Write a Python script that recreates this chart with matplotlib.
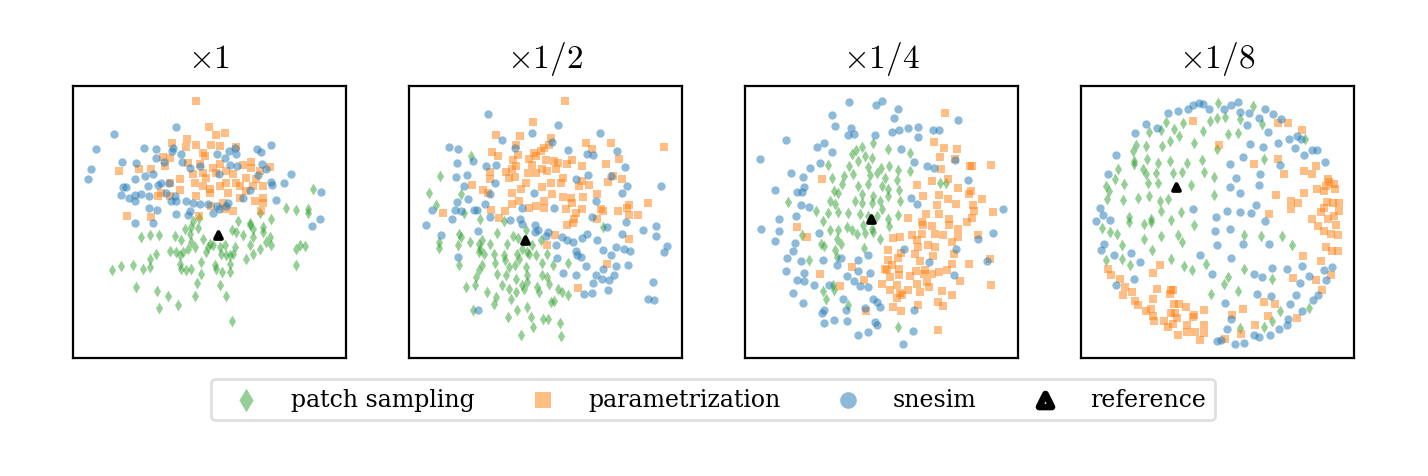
import numpy as np
import matplotlib
matplotlib.use("Agg")
import matplotlib.pyplot as plt

plt.rcParams['font.family'] = 'DejaVu Serif'
plt.rcParams['mathtext.fontset'] = 'cm'

TITLES = [r'$\times 1$', r'$\times 1/2$', r'$\times 1/4$', r'$\times 1/8$']
LABELS = ['patch sampling', 'parametrization', 'snesim', 'reference']

# ---- panel 1 (x1) ----
P1_PATCH = [(720,310),(640,365),(668,373),(705,368),(705,380),(560,380),(595,400),(495,405),(530,410),(378,395),(360,405),
(205,453),(230,448),(258,448),(305,450),(335,428),(355,423),(375,426),(350,443),(325,463),(355,468),(390,458),(365,483),
(345,488),(330,498),(290,496),(310,498),(320,508),(405,483),(400,498),(410,473),(420,478),(440,483),(455,478),(478,433),
(490,438),(510,448),(530,418),(540,428),(570,423),(570,438),(540,453),(590,453),(595,478),(580,468),(560,488),(530,478),
(520,518),(540,503),(485,483),(480,503),(470,508),(460,508),(445,503),(250,503),(230,518),(180,538),(145,541),(117,553),
(210,548),(230,543),(320,533),(340,553),(355,548),(325,548),(385,528),(385,563),(425,538),(430,548),(448,558),(472,558),
(470,533),(440,598),(372,590),(458,630),(365,630),(315,656),(284,630),(252,615),(258,665),(190,603),(478,705),(668,488),
(680,478),(695,480),(668,538)]
P1_PARAM = [(370,45),(408,122),(430,148),(455,142),(298,172),(343,160),(338,182),(368,178),(415,178),(440,180),(490,182),
(390,200),(395,210),(270,212),(290,215),(345,232),(275,240),(137,255),(198,250),(235,250),(380,235),(420,245),(440,235),
(510,237),(535,228),(535,245),(590,242),(320,280),(290,290),(360,265),(390,260),(400,275),(430,260),(460,255),(480,265),
(520,275),(550,280),(560,255),(460,290),(490,290),(365,290),(390,300),(410,310),(440,300),(500,300),(540,300),(570,300),
(265,320),(255,330),(320,312),(370,330),(410,320),(465,320),(520,315),(570,335),(545,345),(570,350),(450,350),(500,335),
(415,360),(455,370),(480,375),(565,375),(163,390),(233,393),(378,390),(290,330)]
P1_SNESIM = [(123,145),(70,188),(55,248),(45,278),(148,228),(190,230),(212,187),(248,188),(250,215),(273,228),(300,185),
(298,195),(308,122),(325,203),(328,228),(350,247),(380,240),(432,205),(455,215),(468,195),(485,187),(488,205),(470,237),
(493,240),(553,188),(563,197),(593,177),(568,233),(580,250),(653,263),(633,292),(593,287),(597,297),(555,268),(530,312),
(510,335),(465,350),(432,360),(458,360),(437,368),(405,355),(382,355),(350,375),(340,345),(360,350),(305,330),(310,345),
(293,345),(278,322),(288,292),(265,292),(255,297),(225,300),(240,265),(215,270),(185,278),(158,302),(150,302),(145,328),
(168,335),(185,328),(185,345),(205,325),(228,330),(228,365),(252,373),(308,385),(345,387),(420,380),(608,342),(743,318),
(740,398),(438,265),(185,410),(240,410),(717,420)]
P1_REF = [(436,448)]

# ---- panel 2 (x1/2) ----
P2_PATCH = [(185,210),(93,270),(60,320),(155,325),(82,358),(165,380),(213,400),(285,405),
(150,443),(155,453),(148,478),(90,468),(90,486),(183,468),(210,473),(220,463),(210,498),(225,503),(212,488),(242,473),
(265,440),(293,473),(313,450),(328,456),(350,433),(255,503),(258,530),(285,508),(288,523),(300,543),(325,503),(330,518),
(318,538),(340,488),(355,498),(360,503),(382,508),(370,478),(395,463),(415,503),(398,530),(432,536),(478,530),(150,538),
(218,538),(210,553),(265,563),(292,568),(322,578),(355,568),(350,543),(340,598),(345,608),(355,588),(385,603),(390,618),
(398,568),(415,573),(420,593),(447,608),(458,618),(478,626),(300,608),(278,598),(320,618),(305,640),(262,633),(235,618),
(197,598),(170,603),(200,573),(255,653),(193,673),(325,673),(355,663),(298,693),(365,693),(402,698),(418,698),(425,648),
(435,646),(452,710),(372,723),(335,746),(457,750),(583,423)]
P2_PARAM = [(468,45),(372,108),(262,148),(333,150),(425,155),(420,178),(395,195),(375,200),(382,210),(405,185),(322,178),
(328,208),(248,198),(268,210),(312,222),(322,240),(360,220),(370,237),(410,222),(435,225),(448,232),(475,235),(488,222),
(520,240),(532,172),(548,190),(605,170),(630,218),(590,233),(243,258),(243,278),(290,258),(300,275),(318,272),(308,250),
(358,260),(380,262),(398,250),(415,255),(440,250),(462,275),(455,292),(425,290),(398,302),(350,292),(335,310),(310,322),
(238,322),(222,312),(190,298),(102,382),(430,325),(462,333),(485,335),(490,350),(470,370),(405,345),(405,365),(380,360),
(360,365),(330,345),(308,355),(288,375),(245,372),(520,285),(540,298),(510,300),(565,325),(523,333),(597,288),(613,270),
(640,280),(660,357),(655,365),(575,368),(583,375),(628,375),(660,388),(688,387),(716,350),(766,182),(500,380),(520,370),
(270,395),(495,400),(565,400),(473,416),(493,410),(438,448),(415,476),(660,458),(595,533),(508,606)]
P2_SNESIM = [(236,83),(448,118),(370,140),(280,162),(572,142),(120,183),(148,190),(143,230),(192,225),(230,240),(260,237),
(317,185),(428,168),(477,193),(535,205),(553,207),(623,195),(647,243),(538,268),(500,278),(605,270),(655,300),(638,322),
(755,300),(140,272),(173,268),(165,300),(258,290),(178,340),(143,347),(243,323),(228,355),(205,372),(195,372),(155,375),
(137,373),(68,373),(130,398),(242,392),(302,402),(333,398),(375,320),(340,365),(435,367),(560,345),(548,392),(650,408),
(52,418),(97,446),(148,513),(207,436),(208,671),(338,413),(378,418),(378,438),(388,433),(418,438),(410,450),(440,478),
(445,516),(460,453),(475,463),(492,468),(500,496),(505,508),(515,513),(518,456),(535,443),(530,541),(563,463),(582,493),
(593,423),(607,508),(620,483),(638,443),(645,488),(663,496),(703,433),(742,420),(742,450),(773,480),(765,498),(657,536),
(622,541),(583,548),(560,566),(553,590),(580,580),(600,583),(616,566),(598,611),(548,620),(525,625),(500,566),(462,560),
(733,588),(717,638),(736,643)]
P2_REF = [(348,463)]

# ---- panel 3 (x1/4) ----
P3_PATCH = [(350,182),(385,170),(428,190),(495,200),(332,192),(320,205),(360,210),(382,215),(340,225),(312,240),(250,238),
(368,242),(408,245),(433,240),(460,252),(495,255),(297,270),(262,275),(325,265),(375,268),(395,260),(420,275),(455,282),
(290,295),(340,300),(370,295),(410,300),(430,310),(462,312),(268,315),(280,320),(352,325),(385,330),(405,345),(430,330),
(465,345),(255,345),(270,355),(330,345),(350,350),(380,350),(410,370),(130,347),(212,375),(248,382),(278,378),(310,380),
(345,385),(370,390),(395,390),(430,400),(460,388),(585,290),(602,290),(235,405),
(255,433),(278,433),(305,423),(322,433),(335,443),(355,418),(360,440),(380,430),(385,438),(432,420),(405,458),(358,485),
(277,458),(287,473),(228,473),(238,480),(270,493),(275,513),(192,523),(172,446),(265,598),(268,613),(235,616),(243,640),
(308,656),(458,723)]
P3_PARAM = [(600,80),(568,168),(598,185),(635,190),(585,213),(630,220),(675,240),(680,240),(738,238),(588,250),(230,280),
(610,280),(560,285),(515,297),(638,305),(677,315),(673,323),(535,330),(582,328),(608,338),(632,354),(577,357),(685,358),
(712,340),(688,375),(745,378),(543,385),(582,385),(612,398),(490,395),(680,395),(530,408),
(157,423),(186,453),(225,563),(285,600),(322,543),(358,583),(363,676),(445,456),(465,453),(500,446),(533,418),(530,443),
(560,420),(570,443),(595,446),(612,418),(640,430),(638,453),(620,468),(665,408),(700,446),(735,518),(737,596),(672,533),
(645,586),(627,505),(622,535),(605,553),(583,558),(560,563),(565,511),(570,483),(548,476),(520,483),(515,463),(510,503),
(525,526),(540,553),(538,563),(545,588),(552,603),(512,556),(495,570),(515,593),(490,613),(465,620),(470,628),(455,636),
(435,613),(455,596),(410,593),(435,573),(462,566),(462,548),(442,538),(425,553),(420,548),(430,523),(460,516),(468,501),
(430,493),(525,618),(590,615),(622,626),(578,648),(595,661),(518,658),(445,663),(467,675),(578,731)]
P3_SNESIM = [(312,48),(393,58),(412,45),(458,70),(446,97),(262,88),(270,120),(317,127),(308,147),(328,145),(390,148),
(442,137),(462,133),(490,127),(518,122),(520,152),(565,133),(583,133),(640,103),(123,162),(217,182),(238,172),(260,198),
(226,230),(195,245),(137,262),(173,273),(45,220),(90,312),(157,318),(170,317),(177,302),(167,357),(193,362),(153,390),
(103,398),(468,190),(508,228),(545,240),(568,245),(630,222),(668,283),(497,335),(515,355),(775,368),
(47,430),(103,436),(90,466),(150,471),(143,496),(125,516),(168,526),(122,556),(178,560),(157,581),(178,585),(208,598),
(143,620),(173,651),(222,441),(234,523),(276,538),(288,515),(253,596),(305,570),(327,586),(340,523),(340,555),(368,508),
(375,560),(345,601),(368,603),(295,638),(302,671),(236,673),(230,681),(236,711),(268,701),(307,704),(361,666),(383,638),
(395,648),(405,663),(390,708),(395,716),(368,738),(340,746),(473,775),(505,736),(508,673),(476,488),(553,528),(627,568),
(632,488),(700,458),(727,526),(743,440)]
P3_REF = [(378,399)]

# ---- panel 4 (x1/8) ----
P4_PATCH = [(412,50),(515,60),(477,98),(407,97),(433,93),(387,105),(542,115),(305,110),(255,108),(280,128),(294,150),
(240,132),(205,137),(366,135),(440,143),(472,140),(268,165),(243,180),(195,180),(165,178),(155,195),(340,170),(407,190),
(672,160),(548,218),(160,225),(160,235),(197,220),(230,230),(268,225),(318,232),(362,222),(185,250),(195,265),(110,248),
(103,278),(225,262),(275,262),(302,258),(370,258),(400,272),(130,295),(75,300),(85,315),(200,290),(230,292),(330,298),
(78,340),(125,342),(172,335),(205,330),(238,345),(262,338),(400,328),(240,375),(300,378),(145,392),(210,398),(270,402),
(62,426),(88,438),(107,443),(145,408),(190,413),(210,408),(340,418),(190,458),(240,450),(290,448),(302,468),(213,493),
(122,476),(75,521),(122,520),(147,538),(270,518),(308,541),(333,551),(375,533),(488,446),(540,450),(603,451),(634,476),
(490,548),(442,573),(430,595),(470,615),(390,625),(572,580),(598,676),(684,665),(573,706),(548,723),(477,725)]
P4_PARAM = [(337,105),(415,178),(590,110),(620,110),(662,133),(592,220),(520,233),(608,265),(668,255),(694,265),(705,240),
(740,278),(745,288),(760,295),(735,300),(708,310),(730,315),(762,308),(585,328),(670,322),(630,345),(650,350),(738,348),
(755,352),(775,352),(730,365),(720,378),(775,375),(760,390),(563,385),(692,400),(740,400),(630,370),
(710,420),(730,436),(750,443),(770,448),(765,418),(735,483),(752,496),(770,496),(665,511),(720,526),(750,566),(635,576),
(705,583),(723,611),(237,536),(215,561),(82,548),(90,568),(117,580),(133,603),(127,626),(152,618),(163,646),(170,658),
(195,676),(210,670),(215,691),(220,706),(228,608),(215,638),(270,613),(275,613),(266,625),(278,653),(295,653),(270,680),
(283,680),(287,695),(316,663),(337,693),(338,686),(248,706),(262,723),(275,713),(318,718),(318,738),(342,738),(368,718),
(370,741),(290,746),(358,763),(370,671),(453,688),(487,668),(550,648),(582,653),(562,690),(648,695),(521,716),(480,745),
(433,758)]
P4_SNESIM = [(260,82),(292,75),(322,68),(335,58),(353,50),(367,55),(385,70),(430,70),(450,58),(470,47),(478,78),(505,80),
(535,95),(552,70),(575,83),(600,100),(497,118),(560,138),(590,170),(625,160),(648,150),(660,158),(643,187),(693,192),
(708,193),(670,208),(733,228),(507,173),(546,182),(486,212),(448,233),(537,265),(465,275),(447,303),(477,320),(533,298),
(598,238),(196,115),(227,125),(163,142),(104,208),(82,263),(57,365),(67,388),(45,405),(88,402),(335,368),(405,392),
(438,375),(477,378),(510,382),(525,357),(553,405),
(70,473),(60,493),(100,508),(150,501),(178,528),(105,596),(160,580),(403,436),(447,430),(407,476),(487,475),(358,506),
(450,516),(392,565),(563,473),(518,563),(542,573),(573,545),(618,548),(663,541),(683,571),(658,590),(730,553),(752,543),
(735,583),(712,628),(697,641),(645,628),(627,655),(663,676),(622,698),(618,718),(595,730),(567,748),(535,753),(518,746),
(527,623),(570,630),(433,650),(450,698),(438,728),(408,766),(420,761),(462,775),(490,770)]
P4_REF = [(284,303)]

PANELS = [
    (P1_PATCH, P1_PARAM, P1_SNESIM, P1_REF),
    (P2_PATCH, P2_PARAM, P2_SNESIM, P2_REF),
    (P3_PATCH, P3_PARAM, P3_SNESIM, P3_REF),
    (P4_PATCH, P4_PARAM, P4_SNESIM, P4_REF),
]

fig = plt.figure(figsize=(7.14, 2.385), dpi=200)
lefts = [73, 409, 745, 1081]
W, H = 1428, 477
handles = None
for i, (patch, param, snes, ref) in enumerate(PANELS):
    ax = fig.add_axes([lefts[i] / W, (H - 359) / H, 273 / W, 272 / H])
    patch = np.array(patch); param = np.array(param); snes = np.array(snes); ref = np.array(ref)
    h1 = ax.scatter(patch[:, 0], patch[:, 1], s=9, marker='d', color='C2', alpha=0.5, linewidths=0, label=LABELS[0])
    h2 = ax.scatter(param[:, 0], param[:, 1], s=9, marker='s', color='C1', alpha=0.5, linewidths=0, label=LABELS[1])
    h3 = ax.scatter(snes[:, 0], snes[:, 1], s=9, marker='o', color='C0', alpha=0.5, linewidths=0, label=LABELS[2])
    h4 = ax.scatter(ref[:, 0], ref[:, 1], s=6, marker='^', facecolor='white', edgecolor='black',
                    linewidth=1.4, label=LABELS[3], zorder=5)
    ax.set_xlim(0, 819)
    ax.set_ylim(816, 0)
    ax.set_xticks([]); ax.set_yticks([])
    ax.set_title(TITLES[i], fontsize=12, pad=7)
    handles = [h1, h2, h3, h4]

leg = fig.legend(handles, LABELS, loc='center', bbox_to_anchor=(713 / W, (H - 400.5) / H),
                 ncol=4, fontsize=8.5, markerscale=2, columnspacing=1.78,
                 handlelength=2.2, borderpad=0.4)
leg.get_frame().set_edgecolor('0.85')
tri = leg.legend_handles[3]
tri.set_sizes([22])
tri.set_linewidth(2.4)
fig.savefig('out.png', dpi=200)
